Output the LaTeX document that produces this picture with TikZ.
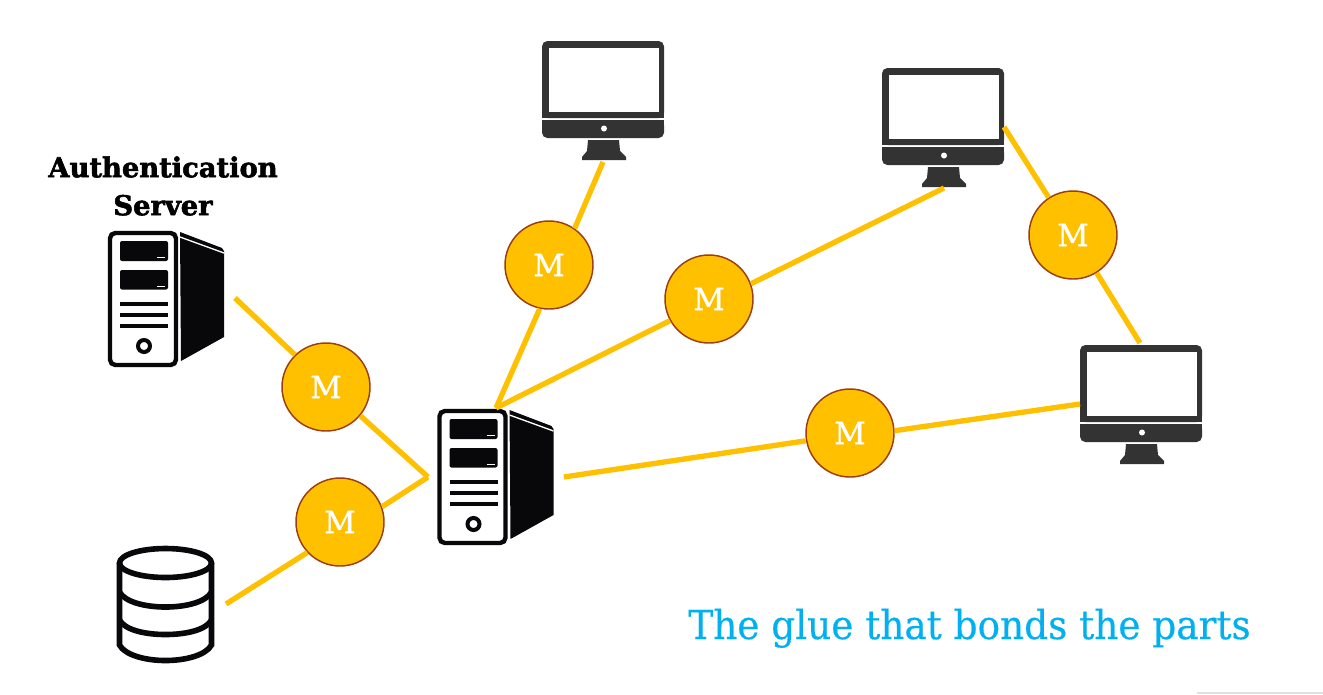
\documentclass[tikz,border=0pt]{standalone}
\usepackage{fontspec}
\setmainfont{DejaVu Serif}
\newfontfamily\slabfont[FakeStretch=0.935,FakeBold=0.4]{DejaVu Serif}
\newfontfamily\markfont[FakeBold=1]{DejaVu Serif}
\newfontfamily\headfont[FakeStretch=1.0,FakeBold=2]{DejaVu Serif Bold}
\usetikzlibrary{arrows.meta}
\definecolor{glue}{HTML}{FFC000}
\definecolor{rim}{HTML}{9C3D12}
\definecolor{sky}{HTML}{00B0F0}
\definecolor{ink}{HTML}{333333}
\definecolor{tower}{HTML}{08070A}

\begin{document}
\begin{tikzpicture}
[x=0.75pt,y=-0.75pt
,mw/.style={circle,draw=rim,line width=1.1pt,fill=glue,text=white,minimum size=66pt,inner sep=0pt,font=\markfont\fontsize{23}{23}\selectfont}
,link/.style={draw=glue,line width=4pt}
,heading/.style={inner sep=0pt,align=center,font=\headfont\fontsize{20.5}{28.5}\selectfont}
,pics/towerpc/.style={code={
  \draw[tower,line width=3.3pt,rounded corners=4pt] (2,2) rectangle (68,134);
  \fill[tower,rounded corners=1.5pt] (12,10) rectangle (60,30);
  \fill[tower,rounded corners=1.5pt] (12,39) rectangle (60,58.5);
  \draw[white,line width=0.9pt] (49,26.5) -- (57,26.5);
  \draw[white,line width=0.9pt] (49,55.5) -- (57,55.5);
  \foreach \ly in {73,84,95}
    \draw[tower,line width=3pt] (12,\ly) -- (60,\ly);
  \draw[tower,line width=3pt] (36,115) circle (6);
  \fill[tower] (72,1) -- (114,17) -- (116,20) -- (116,106) -- (73,130) -- cycle;
  \draw[white,line width=1pt] (72,6) -- (116,22);
}}
,pics/screenpc/.style={code={
  \fill[ink,rounded corners=4pt] (0,0) -- (122,0) -- (122,77) -- (0,77) -- cycle;
  \fill[ink] (0,70) rectangle (122,77);
  \fill[white] (6.5,7) rectangle (117,70.5);
  \fill[ink,rounded corners=4pt] (0,79) -- (122,79) -- (122,97) -- (0,97) -- cycle;
  \fill[ink] (0,79) rectangle (122,86);
  \fill[white] (62,87.5) circle (3);
  \fill[ink] (46,99) -- (77,99) -- (78,110) -- (84,116) -- (84,119) -- (40,119) -- (40,116) -- (45,110) -- cycle;
}}
]
\useasboundingbox (0,0) rectangle (1323,694);

% icons
\pic at (108,231) {towerpc};
\pic at (437.5,409) {towerpc};
\pic at (542,41) {screenpc};
\pic at (882,68) {screenpc};
\pic at (1080,345) {screenpc};

% database
\begin{scope}[tower,line width=4.2pt]
\draw (165.5,563) ellipse (46 and 14.5);
\draw (119.5,563) -- (119.5,645) .. controls (125,655) and (145,660.5) .. (165.5,660.5) .. controls (186,660.5) and (206,655) .. (211.5,645) -- (211.5,563);
\draw (119.5,592) .. controls (125,602) and (145,607) .. (165.5,607) .. controls (186,607) and (206,602) .. (211.5,592);
\draw (119.5,620) .. controls (125,630) and (145,634.5) .. (165.5,634.5) .. controls (186,634.5) and (206,630) .. (211.5,620);
\end{scope}

\node[mw] (m1) at (326,387) {M};
\node[mw] (m2) at (340,522) {M};
\node[mw] (m3) at (549,265) {M};
\node[mw] (m4) at (709,299) {M};
\node[mw] (m5) at (1073,235) {M};
\node[mw] (m6) at (850,433) {M};

\coordinate (auth) at (235,298);
\coordinate (store) at (226,604);
\coordinate (hubl) at (428,477);
\coordinate (hubt) at (496,408);
\coordinate (hubr) at (564,477);
\coordinate (sc1) at (603,162);
\coordinate (sc2) at (944,188);
\coordinate (sc2r) at (1004,127);
\coordinate (sc3t) at (1140,343);
\coordinate (sc3l) at (1080,404);

\draw[link] (auth) -- (m1.134);
\draw[link] (m1.320) -- (hubl);
\draw[link] (store) -- (m2.223);
\draw[link] (m2.20) -- (hubl);
\draw[link] (hubt) -- (m3.258);
\draw[link] (m3.55) -- (sc1);
\draw[link] (hubt) -- (m4.209);
\draw[link] (m4.20) -- (sc2);
\draw[link] (sc2r) -- (m5.123);
\draw[link] (m5.302) -- (sc3t);
\draw[link] (hubr) -- (m6.190);
\draw[link] (m6.3) -- (sc3l);

\node[heading] (authtxt) at (163,186) {Authentication\\Server};
\node[anchor=base west,inner sep=0pt,text=sky,font=\slabfont\fontsize{30}{30}\selectfont] (slogan) at (688,639) {The glue that bonds the parts};
\fill[black!12] (1197,692) rectangle (1323,694);
\end{tikzpicture}
\end{document}
